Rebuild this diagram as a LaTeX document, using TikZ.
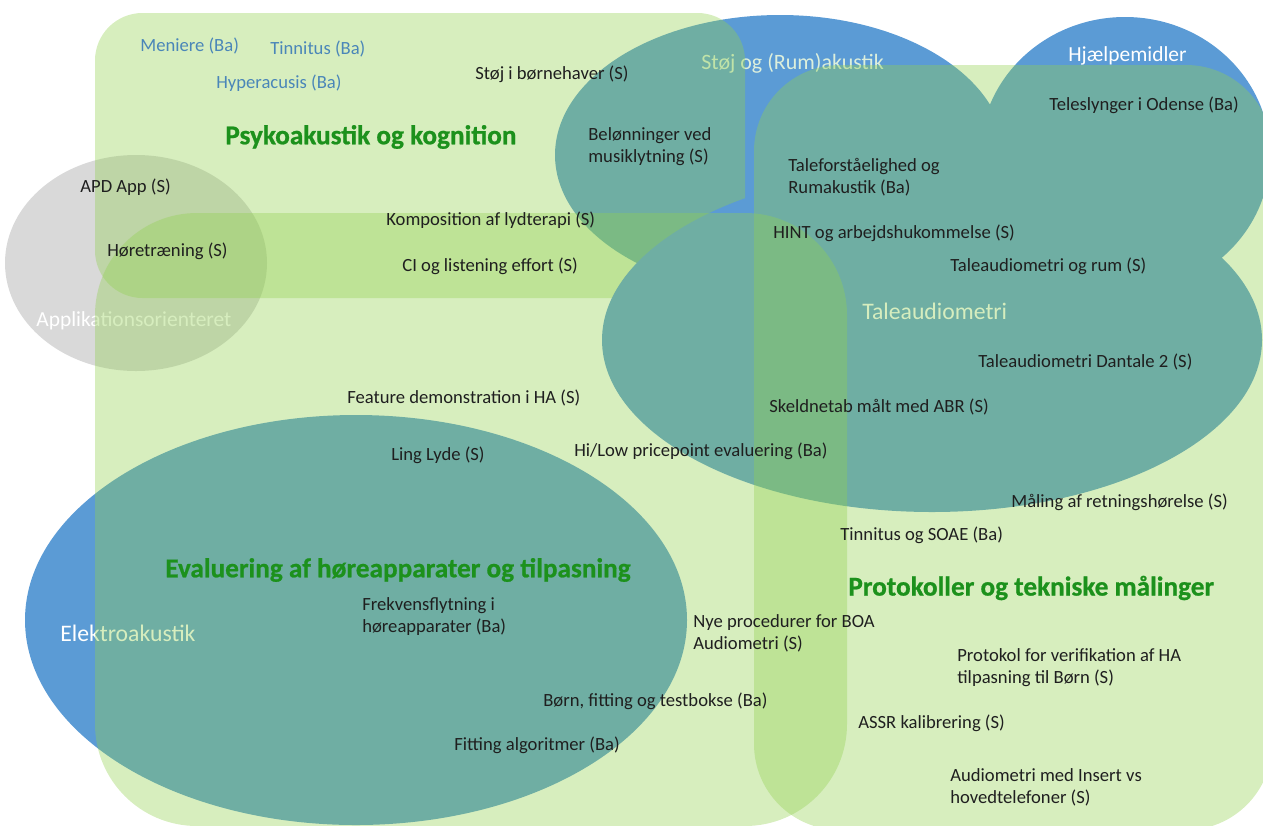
\documentclass[tikz,border=0pt]{standalone}
\usepackage{fontspec}
\setmainfont{Carlito}
\newfontfamily\titlefont{Carlito}[FakeBold=0.8]
\usepackage{xcolor}
\usepackage{tikz}
\usetikzlibrary{positioning}

\definecolor{areablue}{HTML}{5B9BD5}
\definecolor{areagray}{HTML}{D9D9D9}
\definecolor{areagreen}{HTML}{92D050}
\definecolor{titlegreen}{RGB}{28,145,28}
\definecolor{topicblue}{HTML}{4A86B8}
\definecolor{palelabel}{HTML}{DCEFDC}

\begin{document}
\begin{tikzpicture}[
  x=0.02cm, y=-0.02cm,
  every node/.style={font=\fontsize{10.6}{12.5}\selectfont, inner sep=0pt, align=left, anchor=west, text=black!88},
  blob/.style={fill=areablue},
  field/.style={fill=areagreen, fill opacity=0.37},
  areaname/.style={font=\fontsize{#1}{16}\selectfont, text=white},
  areaname/.default=13.5,
  title/.style={font=\fontsize{15.5}{18}\selectfont\titlefont\bfseries, text=titlegreen},
  bluetopic/.style={text=topicblue}
]
\path[use as bounding box] (0,0) rectangle (1263,825);
\clip (0,0) rectangle (1263,825);

\fill[areagray] (136,263) ellipse [x radius=131, y radius=108];
\fill[blob] (356,620) ellipse [x radius=331, y radius=205];
\fill[blob] (780,155) ellipse [x radius=225, y radius=140];
\fill[blob] (1125,155) ellipse [x radius=145, y radius=138];

\node[areaname=12.2] (appl) at (36,321) {Applikationsorienteret};
\node[areaname] (elektro) at (60,633) {Elektroakustik};
\node[areaname=12.5, text=palelabel] (stoejlbl) at (701,63) {Støj og (Rum)akustik};
\node[areaname=12.2] (hjaelp) at (1068,56) {Hjælpemidler};

\fill[field, rounded corners=0.95cm] (95,13) rectangle (745,298);

\fill[blob] (932,340) ellipse [x radius=330, y radius=172];
\node[areaname] (talelbl) at (862,311) {Taleaudiometri};

\fill[field, rounded corners=2.04cm] (95,213) rectangle (847,826);
\fill[field, rounded corners=1.72cm] (754,65) rectangle (1272,830);

\node[title] (psyko) at (225,137) {Psykoakustik og kognition};
\node[title] (evaltitle) at (165,570) {Evaluering af høreapparater og tilpasning};
\node[title] (prottitle) at (848,588) {Protokoller og tekniske målinger};

\node[bluetopic] (meniere) at (140,46) {Meniere (Ba)};
\node[bluetopic] (tinnitus) at (270,49) {Tinnitus (Ba)};
\node[bluetopic] (hyper) at (216,83) {Hyperacusis (Ba)};

\node (stoejbh) at (475,74) {Støj i børnehaver (S)};
\node (beloen) at (588,147) {Belønninger ved\\musiklytning (S)};
\node (teleslyng) at (1049,105) {Teleslynger i Odense (Ba)};
\node (taleforst) at (788,177) {Taleforståelighed og\\Rumakustik (Ba)};
\node (apd) at (80,187) {APD App (S)};
\node (kompos) at (386,220) {Komposition af lydterapi (S)};
\node (hint) at (773,233) {HINT og arbejdshukommelse (S)};
\node (hoeretr) at (107,251) {Høretræning (S)};
\node (ci) at (402,266) {CI og listening effort (S)};
\node (talerum) at (950,266) {Taleaudiometri og rum (S)};
\node (dantale) at (978,362) {Taleaudiometri Dantale 2 (S)};
\node (feature) at (347,398) {Feature demonstration i HA (S)};
\node (skeld) at (769,407) {Skeldnetab målt med ABR (S)};
\node (hilow) at (574,451) {Hi/Low pricepoint evaluering (Ba)};
\node (ling) at (391,455) {Ling Lyde (S)};
\node (retning) at (1011,502) {Måling af retningshørelse (S)};
\node (soae) at (840,535) {Tinnitus og SOAE (Ba)};
\node (frekvens) at (362,617) {Frekvensflytning i\\høreapparater (Ba)};
\node (boa) at (693,633) {Nye procedurer for BOA\\Audiometri (S)};
\node (protokol) at (957,668) {Protokol for verifikation af HA\\tilpasning til Børn (S)};
\node (boern) at (543,701) {Børn, fitting og testbokse (Ba)};
\node (assr) at (858,723) {ASSR kalibrering (S)};
\node (fitalg) at (454,745) {Fitting algoritmer (Ba)};
\node (insert) at (950,787) {Audiometri med Insert vs\\hovedtelefoner (S)};

\end{tikzpicture}
\end{document}
